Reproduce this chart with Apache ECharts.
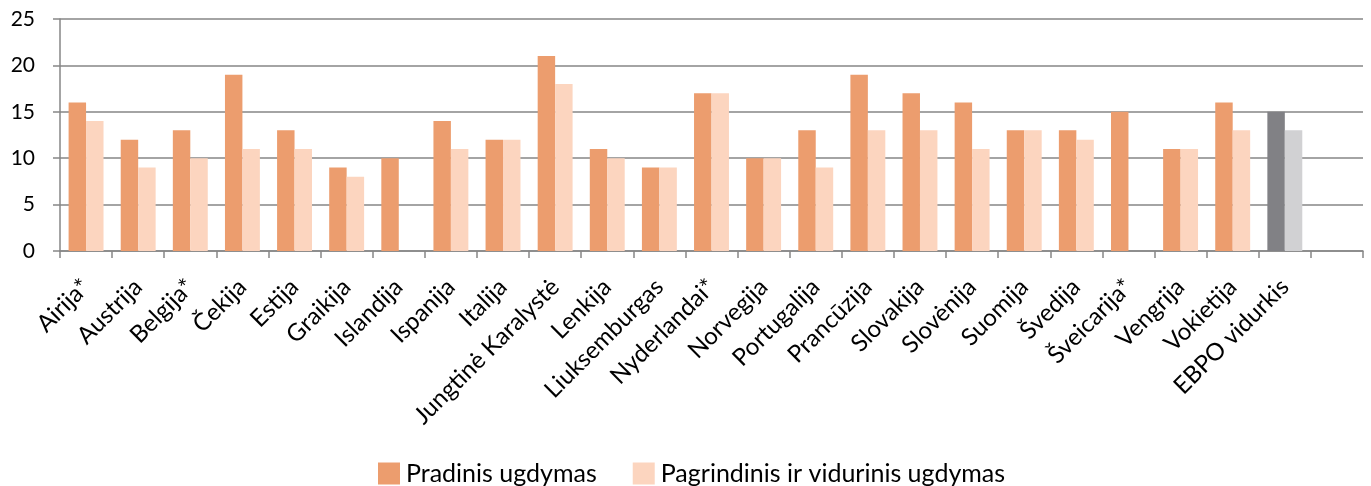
<!DOCTYPE html>
<html>
<head>
<meta charset="utf-8">
<script src="https://cdn.jsdelivr.net/npm/echarts@6/dist/echarts.min.js"></script>
<style>
  html, body { margin: 0; padding: 0; background: #fff; }
  #chart { width: 1371px; height: 486px; }
</style>
</head>
<body>
<div id="chart"></div>
<script>
const categories = [
  "Airija*", "Austrija", "Belgija*", "Čekija", "Estija", "Graikija", "Islandija",
  "Ispanija", "Italija", "Jungtinė Karalystė", "Lenkija", "Liuksemburgas",
  "Nyderlandai*", "Norvegija", "Portugalija", "Prancūzija", "Slovakija",
  "Slovėnija", "Suomija", "Švedija", "Šveicarija*", "Vengrija", "Vokietija",
  "EBPO vidurkis", ""
];
const primary = [16, 12, 13, 19, 13, 9, 10, 14, 12, 21, 11, 9, 17, 10, 13, 19, 17, 16, 13, 13, 15, 11, 16, 15, null];
const secondary = [14, 9, 10, 11, 11, 8, null, 11, 12, 18, 10, 9, 17, 10, 9, 13, 13, 11, 13, 12, null, 11, 13, 13, null];
const seriesNames = ["Pradinis ugdymas", "Pagrindinis ir vidurinis ugdymas"];
const yTicks = [0, 5, 10, 15, 20, 25];

const orange = "#ec9d6e";
const pale = "#fcd5bf";
const avgName = "EBPO vidurkis";

// the OECD average bars are drawn in greys
function withAverage(values, avgColor) {
  return values.map((v, i) =>
    categories[i] === avgName ? { value: v, itemStyle: { color: avgColor } } : v
  );
}

const chart = echarts.init(document.getElementById("chart"));
chart.setOption({
  animation: false,
  textStyle: { fontFamily: "Lato, 'Open Sans', sans-serif" },
  grid: { left: 60, right: 8, top: 19, bottom: 235 },
  legend: {
    left: 378,
    top: 461,
    padding: 0,
    itemWidth: 22,
    itemHeight: 22,
    itemGap: 36,
    icon: "rect",
    textStyle: { fontSize: 25, color: "#000", padding: [0, 0, 0, 1] },
    data: seriesNames
  },
  xAxis: {
    type: "category",
    data: categories,
    axisLine: { lineStyle: { color: "#868686", width: 1.5 } },
    axisTick: { show: true, length: 7, lineStyle: { color: "#868686", width: 1.5 } },
    axisLabel: {
      rotate: 45,
      interval: 0,
      fontSize: 24,
      color: "#000",
      margin: 32
    }
  },
  yAxis: {
    type: "value",
    min: yTicks[0],
    max: yTicks[yTicks.length - 1],
    interval: 5,
    axisLine: { show: true, lineStyle: { color: "#868686", width: 1.5 } },
    axisTick: { show: true, length: 7, lineStyle: { color: "#868686", width: 1.5 } },
    splitLine: { lineStyle: { color: "#868686", width: 1.5 } },
    axisLabel: { fontSize: 21, color: "#000", margin: 25 }
  },
  series: [
    {
      name: seriesNames[0],
      type: "bar",
      data: withAverage(primary, "#818185"),
      itemStyle: { color: orange },
      barGap: "0%",
      barCategoryGap: "33%"
    },
    {
      name: seriesNames[1],
      type: "bar",
      data: withAverage(secondary, "#d1d1d3"),
      itemStyle: { color: pale },
      barGap: "0%",
      barCategoryGap: "33%"
    }
  ]
});
</script>
</body>
</html>
